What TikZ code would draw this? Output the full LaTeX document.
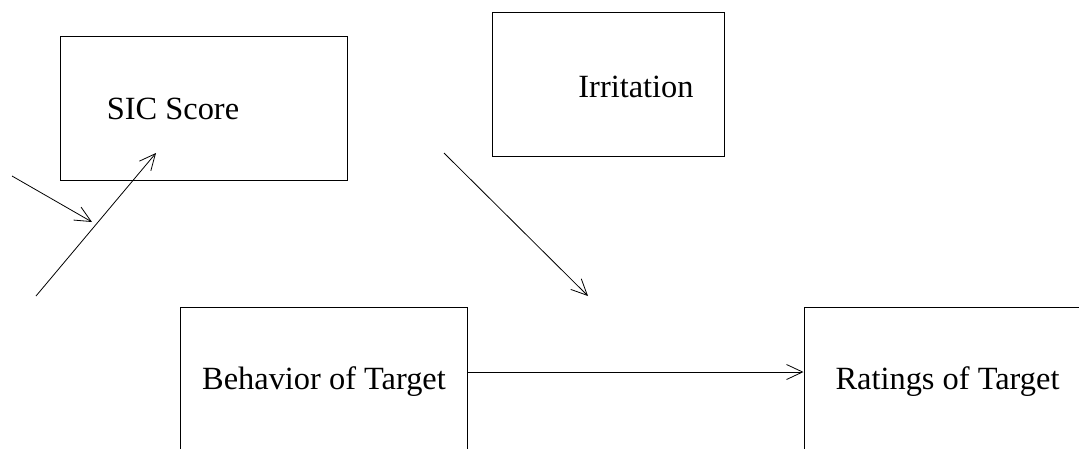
\documentclass[tikz,border=0pt]{standalone}
\usepackage{fontspec}
\setmainfont{Liberation Serif}
\usepackage{tikz}
\usetikzlibrary{arrows.meta}

\begin{document}
\begin{tikzpicture}[x=1pt, y=-1pt,
    box/.style={draw, line width=1pt, minimum width=287pt, minimum height=144pt, inner sep=0pt},
    lbl/.style={anchor=base, font=\fontsize{32.4}{39}\selectfont},
    link/.style={line width=0.8pt, -{Straight Barb[length=16pt, width=15pt]}}]
    \useasboundingbox (0,0) rectangle (1079,448);

    % Boxes
    \node[box] (sic) at (203.5,108) {};
    \node[box, minimum width=232pt] (irr) at (608,84) {};
    \node[box] (behav) at (323.5,379) {};
    \node[box] (rate) at (947.5,379) {};

    % Labels
    \node[lbl] (sictxt) at (173,119) {SIC Score};
    \node[lbl] (irrtxt) at (636,97) {Irritation};
    \node[lbl] (behavtxt) at (324,389) {Behavior of Target};
    \node[lbl] (ratetxt) at (947.5,389) {Ratings of Target};

    % Free arrows
    \coordinate (a1s) at (12,176);
    \coordinate (a1e) at (92,222);
    \coordinate (a2s) at (36,296);
    \coordinate (a2e) at (156,153);
    \coordinate (a3s) at (444,153);
    \coordinate (a3e) at (588,296);
    \draw[link] (a1s) -- (a1e);
    \draw[link] (a2s) -- (a2e);
    \draw[link] (a3s) -- (a3e);
    \draw[link] ([yshift=7pt]behav.east) -- ([yshift=7pt]rate.west);
\end{tikzpicture}
\end{document}
